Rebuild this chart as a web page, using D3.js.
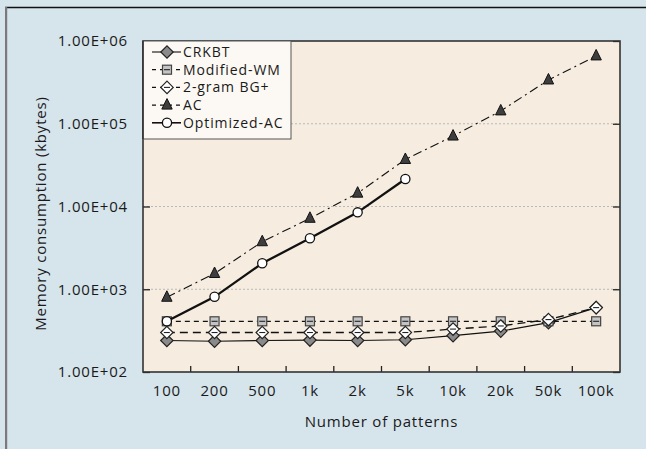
<!DOCTYPE html>
<html>
<head>
<meta charset="utf-8">
<script src="https://cdn.jsdelivr.net/npm/d3@7"></script>
<style>
  html, body { margin: 0; padding: 0; background: #d6e4ec; }
  svg { display: block; }
  text { font-family: "Open Sans", "Noto Sans", sans-serif; fill: #1a1a1a; }
</style>
</head>
<body>
<svg id="chart" width="646" height="449"></svg>
<script>
// Number of patterns (category axis)
const categories = ["100", "200", "500", "1k", "2k", "5k", "10k", "20k", "50k", "100k"];

// Memory consumption in kbytes per algorithm
const crkbt       = [240, 235, 240, 243, 240, 245, 275, 312, 395, 600];
const modifiedWM  = [410, 410, 410, 410, 410, 410, 410, 410, 410, 410];
const bgPlus      = [300, 300, 300, 300, 300, 300, 330, 360, 430, 600];
const ac          = [800, 1550, 3750, 7200, 14500, 37000, 71000, 143000, 338000, 660000];
const optimizedAC = [410, 810, 2060, 4130, 8500, 21500];

const yTicks = [1e2, 1e3, 1e4, 1e5, 1e6];

const series = [
  { name: "CRKBT",        values: crkbt,       dash: null,        width: 1.1, marker: "diamond",  fill: "#8a8a8a", bar: false },
  { name: "Modified-WM",  values: modifiedWM,  dash: "5,4",       width: 1.3, marker: "square",   fill: "#c4c4c4", bar: true },
  { name: "2-gram BG+",   values: bgPlus,      dash: "8,5",       width: 1.3, marker: "diamond",  fill: "#ffffff", bar: true },
  { name: "AC",           values: ac,          dash: "9,4,2,4",   width: 1.1, marker: "triangle", fill: "#3e3e3e", bar: false },
  { name: "Optimized-AC", values: optimizedAC, dash: null,        width: 2.3, marker: "circle",   fill: "#ffffff", bar: false }
];

const svg = d3.select("#chart");
const W = 646, H = 449;
const plot = { left: 143, right: 620, top: 41, bottom: 372 };
const labelFont = 15, labelSpacing = 0.8;

// Page frame: light background, top rule and left bar
svg.append("rect").attr("width", W).attr("height", H).attr("fill", "#d6e4ec");
svg.append("line").attr("x1", 5).attr("x2", W).attr("y1", 7.5).attr("y2", 7.5)
  .attr("stroke", "#111").attr("stroke-width", 1.6);
svg.append("rect").attr("x", 5).attr("y", 7).attr("width", 2.2).attr("height", H - 7).attr("fill", "#7a7a7a");

const x = d3.scaleBand().domain(categories).range([plot.left, plot.right]).paddingInner(0).paddingOuter(0);
const y = d3.scaleLog().domain([1e2, 1e6]).range([plot.bottom, plot.top]);
const cx = c => x(c) + x.bandwidth() / 2;

// Plot background
svg.append("rect")
  .attr("x", plot.left).attr("y", plot.top)
  .attr("width", plot.right - plot.left).attr("height", plot.bottom - plot.top)
  .attr("fill", "#f6ede0");

// Dotted decade gridlines
svg.append("g").selectAll("line")
  .data(yTicks.filter(v => v > 1e2 && v < 1e6))
  .join("line")
  .attr("x1", plot.left).attr("x2", plot.right)
  .attr("y1", d => y(d)).attr("y2", d => y(d))
  .attr("stroke", "#b9b9b9").attr("stroke-width", 1).attr("stroke-dasharray", "2,2");

// Left axis with inward ticks
const fmt = v => "1.00E+" + String(Math.round(Math.log10(v))).padStart(2, "0");
const yAxis = svg.append("g").attr("transform", `translate(${plot.left},0)`)
  .call(d3.axisLeft(y).tickValues(yTicks).tickFormat(fmt).tickSizeInner(-7).tickSizeOuter(0).tickPadding(15));
yAxis.select(".domain").remove();
yAxis.selectAll(".tick line").attr("stroke", "#222").attr("stroke-width", 1.3);
yAxis.selectAll("text").attr("font-size", labelFont).attr("letter-spacing", labelSpacing).attr("fill", "#1a1a1a");

// Right axis ticks (inward)
const yAxisR = svg.append("g").attr("transform", `translate(${plot.right},0)`)
  .call(d3.axisRight(y).tickValues(yTicks).tickFormat("").tickSizeInner(-7).tickSizeOuter(0));
yAxisR.select(".domain").remove();
yAxisR.selectAll(".tick line").attr("stroke", "#222").attr("stroke-width", 1.3);

// Bottom axis: labels centred on categories, ticks on band boundaries
const xAxis = svg.append("g").attr("transform", `translate(0,${plot.bottom})`)
  .call(d3.axisBottom(x).tickSize(0).tickPadding(13));
xAxis.select(".domain").remove();
xAxis.selectAll("text").attr("font-size", labelFont).attr("letter-spacing", labelSpacing).attr("fill", "#1a1a1a");
svg.append("g").selectAll("line")
  .data(categories.slice(1))
  .join("line")
  .attr("x1", d => x(d)).attr("x2", d => x(d))
  .attr("y1", plot.bottom).attr("y2", plot.bottom - 6)
  .attr("stroke", "#222").attr("stroke-width", 1.3);

// Axis titles
svg.append("text")
  .attr("x", (plot.left + plot.right) / 2).attr("y", 427)
  .attr("text-anchor", "middle").attr("font-size", labelFont).attr("letter-spacing", labelSpacing)
  .text("Number of patterns");
svg.append("text")
  .attr("transform", `translate(46,${(plot.top + plot.bottom) / 2 + 7}) rotate(-90)`)
  .attr("text-anchor", "middle").attr("font-size", labelFont).attr("letter-spacing", labelSpacing)
  .text("Memory consumption (kbytes)");

// Marker drawing
function drawMarker(g, s, px, py) {
  if (s.marker === "diamond") {
    g.append("path")
      .attr("d", `M${px},${py - 6.2}L${px + 6.2},${py}L${px},${py + 6.2}L${px - 6.2},${py}Z`)
      .attr("fill", s.fill).attr("stroke", "#222").attr("stroke-width", 1.2);
  } else if (s.marker === "square") {
    g.append("rect").attr("x", px - 4.5).attr("y", py - 4.5).attr("width", 9).attr("height", 9)
      .attr("fill", s.fill).attr("stroke", "#444").attr("stroke-width", 1.2);
  } else if (s.marker === "triangle") {
    g.append("path")
      .attr("d", `M${px},${py - 6.5}L${px + 5.2},${py + 4}L${px - 5.2},${py + 4}Z`)
      .attr("fill", s.fill).attr("stroke", "#111").attr("stroke-width", 1);
  } else if (s.marker === "circle") {
    g.append("circle").attr("cx", px).attr("cy", py).attr("r", 4.6)
      .attr("fill", s.fill).attr("stroke", "#111").attr("stroke-width", 1.3);
  }
  if (s.bar) {
    g.append("line").attr("x1", px - 3).attr("x2", px + 3).attr("y1", py).attr("y2", py)
      .attr("stroke", "#222").attr("stroke-width", 1.1);
  }
}

// Series lines and markers
const lineGen = d3.line().x(d => cx(d.c)).y(d => y(d.v));
series.forEach(s => {
  const pts = s.values.map((v, i) => ({ c: categories[i], v }));
  const g = svg.append("g");
  g.append("path").datum(pts).attr("d", lineGen)
    .attr("fill", "none").attr("stroke", "#111").attr("stroke-width", s.width)
    .attr("stroke-dasharray", s.dash);
  pts.forEach(p => drawMarker(g, s, cx(p.c), y(p.v)));
});

// Plot frame
svg.append("rect")
  .attr("x", plot.left).attr("y", plot.top)
  .attr("width", plot.right - plot.left).attr("height", plot.bottom - plot.top)
  .attr("fill", "none").attr("stroke", "#333").attr("stroke-width", 1.6);

// Legend
const lg = { x: plot.left, y: plot.top, w: 148, h: 98, row: 17.7 };
const legend = svg.append("g");
legend.append("rect").attr("x", lg.x).attr("y", lg.y).attr("width", lg.w).attr("height", lg.h)
  .attr("fill", "#fcf9f4").attr("stroke", "#555").attr("stroke-width", 1);
legend.append("line").attr("x1", lg.x).attr("x2", lg.x).attr("y1", lg.y).attr("y2", lg.y + lg.h)
  .attr("stroke", "#333").attr("stroke-width", 1.6);
series.forEach((s, i) => {
  const ry = lg.y + 11 + i * lg.row;
  legend.append("line").attr("x1", lg.x + 9).attr("x2", lg.x + 38).attr("y1", ry).attr("y2", ry)
    .attr("stroke", "#111").attr("stroke-width", Math.min(s.width, 1.6))
    .attr("stroke-dasharray", s.dash ? "4,4" : null);
  drawMarker(legend, s, lg.x + 24, ry);
  legend.append("text").attr("x", lg.x + 40).attr("y", ry).attr("dy", "0.36em")
    .attr("font-size", 14).attr("letter-spacing", 0.9).text(s.name);
});
</script>
</body>
</html>
